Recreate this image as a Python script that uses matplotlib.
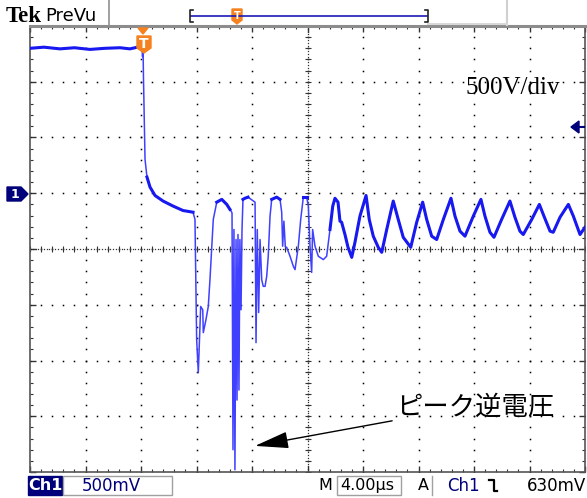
import numpy as np
import matplotlib.pyplot as plt
from matplotlib.patches import Polygon, Rectangle
from matplotlib.lines import Line2D

# ---- waveform (time in us, voltage in V) ----
t_us = [0.0, 1.0, 2.16, 3.2, 4.32, 5.4, 6.49, 7.2, 7.93, 8.07, 8.11, 8.15,
        8.18, 8.22, 8.25, 8.29, 8.43, 8.65, 9.01, 9.59, 10.31, 11.03, 11.75,
        11.89, 11.96, 12.01, 12.13, 12.20, 12.30, 12.45, 12.49, 12.68, 12.85,
        12.97, 13.10, 13.21, 13.46, 13.82, 14.18, 14.41, 14.54,
        14.56, 14.63, 14.70, 14.77, 14.85, 14.92, 14.99, 15.06, 15.13, 15.21,
        15.28, 15.35, 15.49, 15.71, 16.22,
        16.29, 16.38, 16.48, 16.58, 16.70, 16.81, 16.94, 17.06, 17.17, 17.30,
        17.42, 17.78, 18.02, 18.14, 18.21, 18.30, 18.40, 18.50, 18.74, 18.98,
        19.10, 19.34, 19.51, 19.70, 19.94, 20.06, 20.18, 20.30, 20.37, 20.54,
        20.78, 21.14, 21.38, 21.62, 21.82, 21.98,
        22.20, 22.34, 22.46, 22.70, 22.92, 23.19, 23.42, 23.78, 24.22, 24.45,
        24.74, 25.10, 25.35, 25.71, 26.18, 26.54, 26.90, 27.44, 27.87, 28.30,
        28.59, 28.95, 29.31, 29.79, 30.34, 30.63, 30.99, 31.35, 31.95, 32.50,
        32.79, 33.15, 33.44, 33.99, 34.59, 34.95, 35.31, 35.55, 36.16, 36.71,
        37.04, 37.48, 37.71, 38.20, 38.80, 39.16, 39.64, 40.0]
volt_V = [1300, 1310, 1295, 1305, 1290, 1300, 1305, 1295, 1315, 1310, 1225, 1280,
          1025, 755, 530, 305, 145, 55, -20, -70, -115, -155, -170,
          -235, -890, -1310, -1610, -1375, -1015, -1045, -1250, -1135, -1015,
          -775, -475, -235, -80, -55, -100, -145, -170,
          -180, -2300, -325, -2480, -415, -1855, -370, -1765, -415, -1045,
          -325, -55, -45, -35, -80,
          -1340, -325, -1070, -415, -775, -835, -835, -745, -565, -205,
          -55, -35, -55, -170, -475, -250, -480, -485, -565, -655,
          -685, -475, -235, -35, -35, -115, -475, -710, -325, -475,
          -565, -595, -565, -325, -115, -45,
          -80, -250, -260, -370, -485, -575, -440, -205, -20, -235,
          -385, -485, -530, -325, -70, -235, -395, -485, -260, -80,
          -235, -385, -415, -235, -45, -205, -340, -385, -205, -55,
          -205, -350, -395, -235, -70, -215, -340, -370, -235, -100,
          -205, -340, -350, -215, -100, -205, -370, -305]

t = np.array(t_us)
v = np.array(volt_V)

W, H = 587, 498
fig = plt.figure(figsize=(W / 100, H / 100), dpi=100)
fig.patch.set_facecolor('white')

ax = fig.add_axes([30 / W, 26 / H, 555 / W, 446 / H])
ax.set_xlim(0, 40)
ax.set_ylim(-2500, 1500)

# graticule dots
for xv in np.arange(4, 40, 4):
    ys = np.arange(-2500, 1501, 100)
    ax.plot(np.full(len(ys), xv), ys, ls='none', marker='s', ms=1.1, mew=0, color='k')
for yv in np.arange(-2000, 1500, 500):
    xs = np.arange(0, 40.01, 0.8)
    ax.plot(xs, np.full(len(xs), yv), ls='none', marker='s', ms=1.1, mew=0, color='k')
# centre cross, denser with small ticks
yd = np.arange(-2500, 1501, 25)
ax.plot(np.full(len(yd), 20), yd, ls='none', marker='s', ms=0.9, mew=0, color='#333333')
yt = np.arange(-2500, 1501, 100)
ax.plot(np.full(len(yt), 20), yt, ls='none', marker='_', ms=4, mew=0.8, color='#333333')
xd = np.arange(0, 40.01, 0.2)
ax.plot(xd, np.full(len(xd), -500), ls='none', marker='s', ms=0.9, mew=0, color='#333333')
xt = np.arange(0, 40.01, 0.8)
ax.plot(xt, np.full(len(xt), -500), ls='none', marker='|', ms=4, mew=0.8, color='#333333')

# trace: thin light line for the fast spikes, thicker noisy band elsewhere
blue = '#1818f0'
ax.plot(t, v, color='#4040ff', lw=1.1, zorder=5)
for lo, hi in [(0, 8.1), (8.3, 11.8), (13.3, 14.5), (15.3, 16.2),
               (17.4, 18.1), (19.6, 20.0), (21.6, 40.1)]:
    m = (t >= lo) & (t <= hi)
    ax.plot(t[m], v[m], color=blue, lw=2.2, zorder=6)

ax.set_xticks(np.arange(0, 41, 4))
ax.set_xticks(np.arange(0, 40.01, 0.8), minor=True)
ax.set_yticks(np.arange(-2500, 1501, 500))
ax.set_yticks(np.arange(-2500, 1501, 100), minor=True)
ax.tick_params(which='both', direction='in', top=True, right=True,
               labelbottom=False, labelleft=False, color='#333333')
ax.tick_params(which='major', length=4, width=1)
ax.tick_params(which='minor', length=2.2, width=0.8)
for s in ['left', 'bottom', 'right']:
    ax.spines[s].set_color('#555555')
    ax.spines[s].set_linewidth(1.2)
ax.spines['top'].set_color('#8c8c8c')
ax.spines['top'].set_linewidth(2.2)

ax.text(31.4, 944, '500V/div', fontsize=18, family='Liberation Serif',
        ha='left', va='center')
ax.text(26.4, -1915, 'ピーク逆電圧', fontsize=19,
        family=['Noto Sans CJK JP', 'DejaVu Sans'], ha='left', va='center')
ax.annotate('', xy=(16.22, -2266), xytext=(26.1, -2041),
            arrowprops=dict(arrowstyle='-|>,head_length=1.4,head_width=0.35',
                            mutation_scale=15, color='k', lw=1.0,
                            shrinkA=0, shrinkB=0), zorder=8)

# ---- overlay in pixel space for the scope furniture ----
ov = fig.add_axes([0, 0, 1, 1], facecolor='none')
ov.set_xlim(0, W)
ov.set_ylim(H, 0)
ov.axis('off')

navy = '#00007a'
orange = '#f58220'
ov.text(6, 16, 'Tek', fontsize=16.5, fontweight='bold', family='Liberation Serif',
        ha='left', va='center')
ov.text(45, 16, 'PreVu', fontsize=13, family='DejaVu Sans', ha='left', va='center')
ov.add_line(Line2D([109, 109], [0, 25], color='#909090', lw=1.2))
ov.add_line(Line2D([507, 507], [0, 25], color='#d0d0d0', lw=1.5))
ov.add_line(Line2D([428, 507], [24, 24], color='#d8d8d8', lw=1.5))
ov.add_line(Line2D([191, 427], [16, 16], color='#1a1ab4', lw=1.2))
ov.add_line(Line2D([193, 190, 190, 193], [10, 10, 22, 22], color='#222222', lw=1.2))
ov.add_line(Line2D([425, 428, 428, 425], [10, 10, 22, 22], color='#222222', lw=1.2))
ov.add_patch(Polygon([[232, 9], [242, 9], [242, 20], [237, 24], [232, 20]],
                     closed=True, color=orange))
ov.text(237, 15.5, 'T', color='white', fontsize=7, fontweight='bold',
        ha='center', va='center')

# trigger position marker
ov.add_patch(Polygon([[138, 28], [148, 28], [143, 34]], closed=True, color=orange))
ov.add_patch(Polygon([[137, 36], [151, 36], [151, 48], [144, 53], [137, 48]],
                     closed=True, color=orange))
ov.text(144, 43.5, 'T', color='white', fontsize=10, fontweight='bold',
        ha='center', va='center')

# channel 1 ground marker and trigger level arrow
ov.add_patch(Polygon([[7, 187], [21, 187], [28, 194], [21, 201], [7, 201]],
                     closed=True, color=navy))
ov.text(15, 194.5, '1', color='white', fontsize=9, fontweight='bold',
        ha='center', va='center')
ov.add_patch(Polygon([[571, 127], [579, 121], [579, 133]], closed=True, color=navy))
ov.add_line(Line2D([578, 584], [127, 127], color=navy, lw=1.5))

# bottom status bar
ov.add_patch(Rectangle((28, 476), 34, 19, color=navy))
ov.text(45, 485.5, 'Ch1', color='white', fontsize=11.5, fontweight='bold',
        ha='center', va='center')
ov.add_patch(Rectangle((63, 476), 109, 19, fill=False, ec='#a0a0a0', lw=1))
ov.text(82, 485.5, '500mV', color=navy, fontsize=12, ha='left', va='center')
ov.text(318, 485.5, 'M', color='k', fontsize=11.5, ha='left', va='center')
ov.add_patch(Rectangle((337, 476), 64, 19, fill=False, ec='#a0a0a0', lw=1))
ov.text(340, 485.5, '4.00µs', color='k', fontsize=11.5, ha='left', va='center')
ov.text(418, 485.5, 'A', color='k', fontsize=11.5, ha='left', va='center')
ov.add_line(Line2D([432, 432], [476, 495], color='#a0a0a0', lw=1))
ov.text(447, 485.5, 'Ch1', color=navy, fontsize=12, ha='left', va='center')
ov.add_line(Line2D([489, 494, 494, 497], [480, 480, 491, 491], color='k', lw=1.6))
ov.text(586, 485.5, '630mV', color='k', fontsize=12, ha='right', va='center')

fig.savefig('out.png', dpi=100)
